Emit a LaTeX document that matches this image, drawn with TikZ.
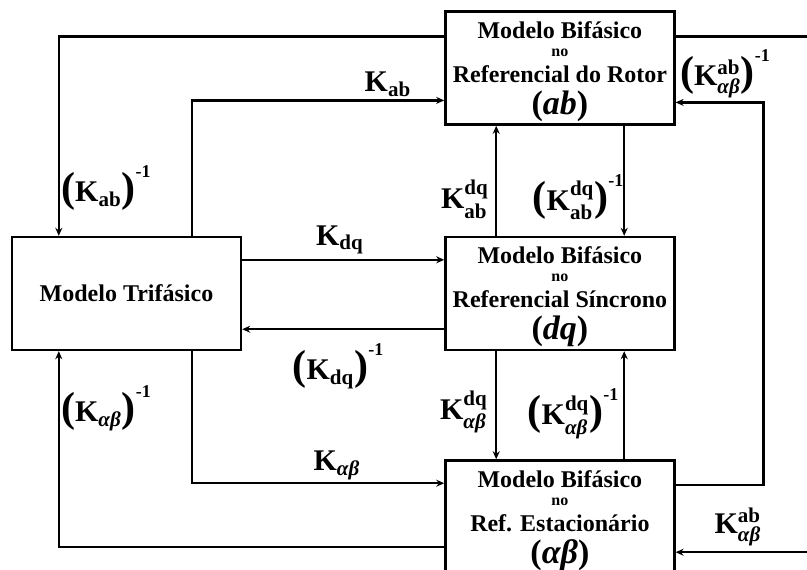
\documentclass[tikz,border=0pt]{standalone}
\usepackage{amsmath}
\usepackage{fontspec}
\setmainfont{Liberation Serif}
\usetikzlibrary{arrows.meta,positioning,calc}

\newcommand{\Ksub}[1]{$\textbf{K}_{\textbf{#1}}$}
\newcommand{\Kop}[2]{$\textbf{K}^{\textbf{#2}}_{\textbf{#1}}$}
\newcommand{\bigpar}[1]{{\fontsize{21}{21}\selectfont #1}}
\newcommand{\minusone}{\raisebox{12pt}{\fontsize{9}{9}\selectfont -1}}
\newcommand{\frameref}[1]{\raisebox{0pt}[\height][0pt]{\fontsize{17}{17}\selectfont (\textit{#1})}}
\newcommand{\smallno}{{\fontsize{8}{8}\selectfont no}}

\begin{document}
\begin{tikzpicture}[
    x=0.5pt, y=-0.5pt,
    node distance=55pt and 101pt,
    bigbox/.style={rectangle, draw=black, line width=1.2pt, minimum width=114.5pt, minimum height=56.5pt, inner sep=0pt, align=center, font=\fontsize{12}{14}\selectfont\bfseries},
    lbl/.style={inner sep=0pt, font=\fontsize{15}{15}\selectfont\bfseries},
    arrow/.style={line width=1.2pt, -{Stealth[length=4pt,width=3.5pt]}}
]
    \useasboundingbox (0,0) rectangle (807,569);
    \clip (0,0) rectangle (807,569);

    % Nodes
    \node[bigbox] (trif) at (126.5,293.5) {Modelo Trifásico};
    \node[bigbox, right=101pt of trif] (dq) {Modelo Bifásico\\[-5pt]\smallno\\[-1pt]Referencial Síncrono\\[2pt]\frameref{dq}};
    \node[bigbox, above=of dq] (ab) {Modelo Bifásico\\[-5pt]\smallno\\[-1pt]Referencial do Rotor\\[2pt]\frameref{ab}};
    \node[bigbox, below=54pt of dq] (ag) {Modelo Bifásico\\[-5pt]\smallno\\[-1pt]Ref. Estacionário\\[2pt]\frameref{αβ}};

    % Arrows
    \draw[arrow] ($(ab.north west)+(0,26)$) -| ($(trif.north west)+(48,0)$);
    \draw[arrow] ($(trif.north west)+(181,0)$) |- ($(ab.north west)+(0,90)$);
    \draw[arrow] ($(trif.north east)+(0,24)$) -- ($(dq.north west)+(0,24)$);
    \draw[arrow] ($(dq.south west)+(0,-22)$) -- ($(trif.south east)+(0,-22)$);
    \draw[arrow] ($(trif.south west)+(181,0)$) |- ($(ag.north west)+(0,24)$);
    \draw[arrow] ($(ag.north west)+(0,88)$) -| ($(trif.south west)+(48,0)$);
    \draw[arrow] ($(dq.north west)+(52,0)$) -- ($(ab.south west)+(52,0)$);
    \draw[arrow] ($(ab.south west)+(180,0)$) -- ($(dq.north west)+(180,0)$);
    \draw[arrow] ($(dq.south west)+(52,0)$) -- ($(ag.north west)+(52,0)$);
    \draw[arrow] ($(ag.north west)+(180,0)$) -- ($(dq.south west)+(180,0)$);
    \draw[arrow] ($(ab.north east)+(0,26)$) -- ++(140,0) |- ($(ag.north east)+(0,93)$);
    \draw[arrow] ($(ag.north east)+(0,26)$) -- ++(88,0) |- ($(ab.north east)+(0,92)$);

    % Annotations
    \node[lbl] (kab) at (388,84) {\Ksub{ab}};
    \node[lbl] (kabinv) at (106,188) {\bigpar{(}\Ksub{ab}\bigpar{)}\minusone};
    \node[lbl] (kdq) at (340,240) {\Ksub{dq}};
    \node[lbl] (kdqinv) at (338,366) {\bigpar{(}\Ksub{dq}\bigpar{)}\minusone};
    \node[lbl] (kag) at (337,465) {\Ksub{\textit{αβ}}};
    \node[lbl] (kaginv) at (106,408) {\bigpar{(}\Ksub{\textit{αβ}}\bigpar{)}\minusone};
    \node[lbl] (kabdq) at (465,199) {\Kop{ab}{dq}};
    \node[lbl] (kabdqinv) at (578,197) {\bigpar{(}\Kop{ab}{dq}\bigpar{)}\minusone};
    \node[lbl] (kagdq) at (464,412) {\Kop{\textit{αβ}}{dq}};
    \node[lbl] (kagdqinv) at (573,414) {\bigpar{(}\Kop{\textit{αβ}}{dq}\bigpar{)}\minusone};
    \node[lbl] (kagabinv) at (725,74) {\bigpar{(}\Kop{\textit{αβ}}{ab}\bigpar{)}\minusone};
    \node[lbl] (kagab) at (738,527) {\Kop{\textit{αβ}}{ab}};

\end{tikzpicture}
\end{document}
